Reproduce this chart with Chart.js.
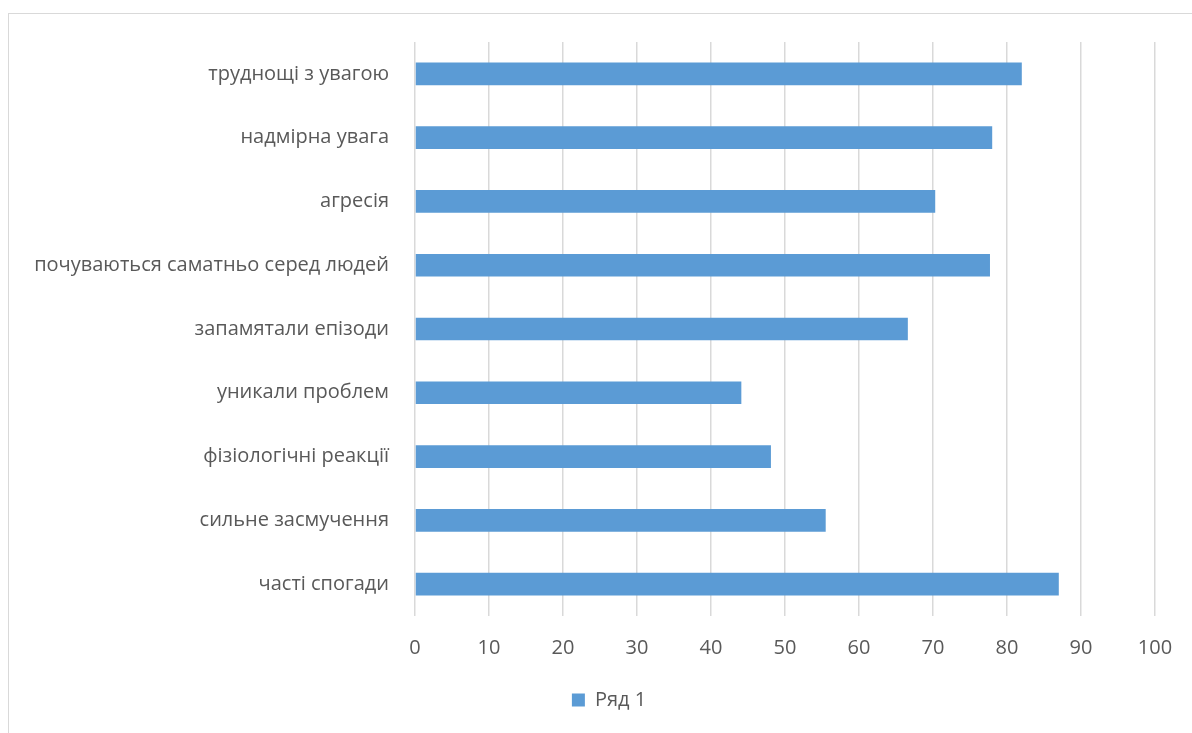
<!DOCTYPE html>
<html>
<head>
<meta charset="utf-8">
<script src="https://cdn.jsdelivr.net/npm/chart.js@4/dist/chart.umd.min.js"></script>
<style>
  html, body { margin: 0; padding: 0; background: #fff; overflow: hidden; width: 1192px; height: 733px; }
  #frame {
    position: absolute; left: 8px; top: 13px;
    width: 1204px; height: 740px;
    border: 1.5px solid #d9d9d9; box-sizing: border-box;
  }
  #wrap { position: absolute; left: 0; top: 0; width: 1204px; height: 716px; }
</style>
</head>
<body>
<div id="frame"><div id="wrap"><canvas id="c"></canvas></div></div>
<script>
// Categories, top to bottom
const categories = [
  'труднощі з увагою',
  'надмірна увага',
  'агресія',
  'почуваються саматньо серед людей',
  'запамятали епізоди',
  'уникали проблем',
  'фізіологічні реакції',
  'сильне засмучення',
  'часті спогади'
];
const seriesName = 'Ряд 1';
const seriesValues = [82, 78, 70.3, 77.7, 66.6, 44.1, 48.1, 55.5, 87];
const axisMin = 0;
const axisMax = 100;
const axisStep = 10;

const textColor = '#595959';
const fontFamily = "'Open Sans', 'Noto Sans', sans-serif";

// Center the legend under the whole frame rather than the padded layout box
const legendOffset = {
  id: 'legendOffset',
  afterLayout(chart, args, opts) {
    const lg = chart.legend;
    if (!lg) return;
    lg.left += opts.dx;
    lg.right += opts.dx;
  }
};

new Chart(document.getElementById('c'), {
  type: 'bar',
  data: {
    labels: categories,
    datasets: [{
      label: seriesName,
      data: seriesValues,
      backgroundColor: '#5b9bd5',
      borderWidth: 0,
      categoryPercentage: 1,
      barPercentage: 0.355
    }]
  },
  plugins: [legendOffset],
  options: {
    indexAxis: 'y',
    responsive: true,
    maintainAspectRatio: false,
    animation: false,
    layout: { padding: { top: 28, right: 58, bottom: 10, left: 0 } },
    plugins: {
      tooltip: { enabled: false },
      legendOffset: { dx: 27 },
      legend: {
        position: 'bottom',
        labels: {
          color: textColor,
          font: { family: fontFamily, size: 20 },
          boxWidth: 13, boxHeight: 13,
          padding: 12
        }
      }
    },
    scales: {
      x: {
        min: axisMin, max: axisMax,
        ticks: {
          stepSize: axisStep,
          color: textColor,
          font: { family: fontFamily, size: 20 },
          padding: 20
        },
        grid: { color: '#d9d9d9', lineWidth: 1.5, drawTicks: false },
        border: { display: false },
        afterFit: (s) => { s.height = 62; s.paddingLeft = 0; s.paddingRight = 0; }
      },
      y: {
        ticks: {
          color: textColor,
          font: { family: fontFamily, size: 20 },
          padding: 26
        },
        grid: { display: false, drawTicks: false },
        border: { display: false },
        afterFit: (s) => { s.width = 406; s.paddingTop = 0; s.paddingBottom = 0; }
      }
    }
  }
});
</script>
</body>
</html>
